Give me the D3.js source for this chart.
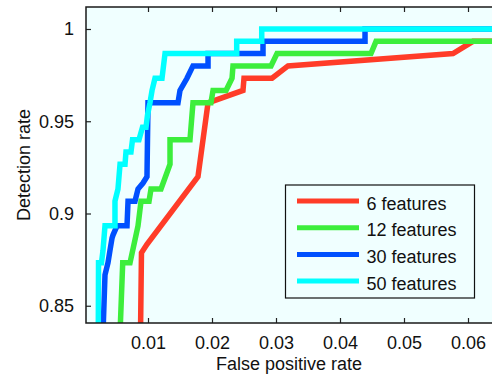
<!DOCTYPE html>
<html>
<head>
<meta charset="utf-8">
<script src="https://cdn.jsdelivr.net/npm/d3@7"></script>
<style>
    body { margin: 0; background: #fff; }
    text { font-family: "Liberation Sans", Arial, Helvetica, sans-serif; fill: #111; }
</style>
</head>
<body>
<svg id="chart" width="492" height="376"></svg>
<script>
'use strict';

// ROC points (false positive rate, detection rate)
let seriesNames = ['6 features', '12 features', '30 features', '50 features'];
let seriesColors = ['#ff3c28', '#3cee3c', '#0050ff', '#00ffff'];

let redFpr = [0.00883, 0.00898, 0.00984, 0.01781, 0.01938, 0.02484, 0.025, 0.02938, 0.03188, 0.05766, 0.06078, 0.0645];
let redDet = [0.835, 0.8787, 0.8833, 0.92, 0.96, 0.9667, 0.9733, 0.9733, 0.98, 0.9867, 0.9933, 0.9933];

let greenFpr = [0.00563, 0.00605, 0.00719, 0.00844, 0.00891, 0.01016, 0.01047, 0.01203, 0.01344, 0.01344, 0.01656,
    0.01703, 0.01984, 0.02016, 0.02219, 0.02313, 0.02328, 0.02922, 0.03016, 0.04484, 0.04563, 0.0645];
let greenDet = [0.835, 0.8733, 0.8733, 0.8933, 0.9067, 0.9067, 0.9133, 0.9133, 0.9267, 0.94, 0.94,
    0.96, 0.96, 0.9667, 0.9667, 0.9733, 0.98, 0.98, 0.9867, 0.9867, 0.9933, 0.9933];

let blueFpr = [0.00297, 0.00328, 0.00375, 0.00406, 0.00438, 0.00453, 0.00516, 0.00672, 0.00688, 0.00797, 0.00844,
    0.00922, 0.00984, 0.01, 0.01469, 0.015, 0.01609, 0.01703, 0.01938, 0.01938, 0.02797, 0.02797, 0.04391, 0.04391, 0.0645];
let blueDet = [0.835, 0.8667, 0.8733, 0.88, 0.8867, 0.8883, 0.8933, 0.8933, 0.9067, 0.9067, 0.9133,
    0.9165, 0.92, 0.96, 0.96, 0.9667, 0.9733, 0.98, 0.98, 0.9867, 0.9867, 0.9933, 0.9933, 1, 1];

let cyanFpr = [0.00223, 0.00227, 0.00273, 0.00297, 0.00328, 0.00484, 0.00484, 0.00531, 0.00563, 0.00641, 0.00656,
    0.00734, 0.00758, 0.00859, 0.00914, 0.00969, 0.00992, 0.01031, 0.01063, 0.01109, 0.01219, 0.01266,
    0.02386, 0.02386, 0.02777, 0.02777, 0.0645];
let cyanDet = [0.835, 0.8733, 0.8733, 0.88, 0.8933, 0.8933, 0.9067, 0.9133, 0.9267, 0.9267, 0.9333,
    0.9333, 0.94, 0.94, 0.9467, 0.9467, 0.9533, 0.96, 0.9667, 0.9733, 0.9733, 0.9867,
    0.9867, 0.9933, 0.9933, 1, 1];

let xTicks = [0.01, 0.02, 0.03, 0.04, 0.05, 0.06];
let yTicks = [0.85, 0.9, 0.95, 1];

let allFpr = [redFpr, greenFpr, blueFpr, cyanFpr];
let allDet = [redDet, greenDet, blueDet, cyanDet];

let svg = d3.select('#chart');
let plot = {left: 86, top: 7, right: 492, bottom: 323};

let x = d3.scaleLinear().domain([0.0003125, 0.06375]).range([plot.left, plot.right]);
let y = d3.scaleLinear().domain([0.84065, 1.01192]).range([plot.bottom, plot.top]);

svg.append('rect')
    .attr('x', plot.left)
    .attr('y', plot.top)
    .attr('width', plot.right - plot.left)
    .attr('height', plot.bottom - plot.top)
    .attr('fill', '#f0ffff');

svg.append('clipPath')
    .attr('id', 'plot-clip')
    .append('rect')
    .attr('x', plot.left)
    .attr('y', plot.top)
    .attr('width', plot.right - plot.left)
    .attr('height', plot.bottom - plot.top);

let line = d3.line()
    .x(function (d) { return x(d[0]); })
    .y(function (d) { return y(d[1]); });

let curves = seriesNames.map(function (name, i) {
    return {name: name, color: seriesColors[i], points: d3.zip(allFpr[i], allDet[i])};
});

svg.append('g')
    .attr('clip-path', 'url(#plot-clip)')
    .selectAll('path')
    .data(curves)
    .join('path')
    .attr('d', function (d) { return line(d.points); })
    .attr('fill', 'none')
    .attr('stroke', function (d) { return d.color; })
    .attr('stroke-width', 5.5)
    .attr('stroke-linejoin', 'miter');

// Axes: ticks point inwards, top edge repeats the x ticks without labels
let tickLen = 5;

svg.append('g')
    .attr('transform', 'translate(0,' + plot.bottom + ')')
    .call(d3.axisBottom(x).tickValues(xTicks).tickSizeInner(-tickLen).tickSizeOuter(0).tickPadding(13)
        .tickFormat(d3.format('.2f')))
    .call(function (g) {
        g.select('.domain').remove();
        g.selectAll('text').attr('font-size', 18).attr('fill', '#111');
    });

svg.append('g')
    .attr('transform', 'translate(0,' + plot.top + ')')
    .call(d3.axisTop(x).tickValues(xTicks).tickSizeInner(-tickLen).tickSizeOuter(0).tickFormat(''))
    .call(function (g) { g.select('.domain').remove(); });

svg.append('g')
    .attr('transform', 'translate(' + plot.left + ',0)')
    .call(d3.axisLeft(y).tickValues(yTicks).tickSizeInner(-tickLen).tickSizeOuter(0).tickPadding(12)
        .tickFormat(function (d) { return d3.format('~g')(d); }))
    .call(function (g) {
        g.select('.domain').remove();
        g.selectAll('text').attr('font-size', 18).attr('fill', '#111');
    });

svg.selectAll('.tick line').attr('stroke', '#222').attr('stroke-width', 1.2);

svg.append('path')
    .attr('d', 'M' + plot.right + ',' + plot.top + 'H' + plot.left + 'V' + plot.bottom + 'H' + plot.right)
    .attr('fill', 'none')
    .attr('stroke', '#1a1a1a')
    .attr('stroke-width', 1.5);

svg.append('text')
    .attr('x', (plot.left + plot.right) / 2)
    .attr('y', 370)
    .attr('text-anchor', 'middle')
    .attr('font-size', 18)
    .text('False positive rate');

svg.append('text')
    .attr('transform', 'translate(30,' + (plot.top + plot.bottom) / 2 + ')rotate(-90)')
    .attr('text-anchor', 'middle')
    .attr('font-size', 18)
    .text('Detection rate');

// Legend box
let legend = svg.append('g');

legend.append('rect')
    .attr('x', 285.5)
    .attr('y', 185)
    .attr('width', 189)
    .attr('height', 113)
    .attr('fill', '#f0ffff')
    .attr('stroke', '#111')
    .attr('stroke-width', 1.2);

let rows = legend.selectAll('g.row')
    .data(curves)
    .join('g')
    .attr('class', 'row')
    .attr('transform', function (d, i) { return 'translate(0,' + (201 + i * 26.7) + ')'; });

rows.append('line')
    .attr('x1', 297)
    .attr('x2', 359)
    .attr('stroke', function (d) { return d.color; })
    .attr('stroke-width', 5);

rows.append('text')
    .attr('x', 366.5)
    .attr('y', 8.5)
    .attr('font-size', 18)
    .text(function (d) { return d.name; });
</script>
</body>
</html>
